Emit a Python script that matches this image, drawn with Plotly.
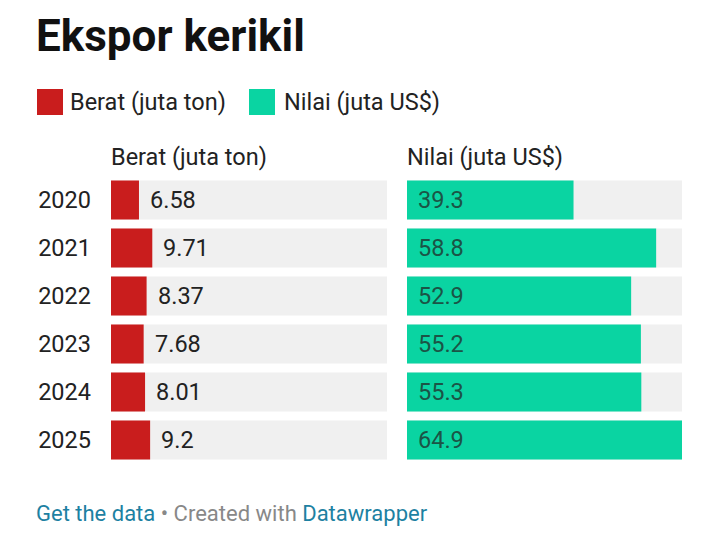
import plotly.graph_objects as go

years = ["2020", "2021", "2022", "2023", "2024", "2025"]
berat = [6.58, 9.71, 8.37, 7.68, 8.01, 9.2]
nilai = [39.3, 58.8, 52.9, 55.2, 55.3, 64.9]
berat_labels = ["6.58", "9.71", "8.37", "7.68", "8.01", "9.2"]
nilai_labels = ["39.3", "58.8", "52.9", "55.2", "55.3", "64.9"]
col_titles = ["Berat (juta ton)", "Nilai (juta US$)"]

W, H = 720, 551
RED = "#c91d1d"
GREEN = "#0ad4a2"
BG = "#f0f0f0"
FONT = "Roboto"
FS = 23.5

vmax = max(max(berat), max(nilai))

def px(x):
    return x / W

def py(y):
    return 1 - y / H

fig = go.Figure()

for i, (vals, col, ax, yax) in enumerate([(berat, RED, "x", "y"), (nilai, GREEN, "x2", "y2")]):
    fig.add_trace(go.Bar(
        y=years, x=[vmax] * len(years), orientation="h",
        marker=dict(color=BG, line=dict(width=0)),
        xaxis=ax, yaxis=yax, hoverinfo="skip", showlegend=False,
    ))
    fig.add_trace(go.Bar(
        y=years, x=vals, orientation="h",
        marker=dict(color=col, line=dict(width=0)),
        xaxis=ax, yaxis=yax, name=col_titles[i], showlegend=False,
    ))

annotations = []
for i, (v, t) in enumerate(zip(berat, berat_labels)):
    annotations.append(dict(x=v, y=i, xref="x", yref="y", text=t, showarrow=False,
                            xanchor="left", yanchor="middle", xshift=9,
                            font=dict(family=FONT, size=FS, color="#222222")))
for i, (v, t) in enumerate(zip(nilai, nilai_labels)):
    annotations.append(dict(x=0, y=i, xref="x2", yref="y2", text=t, showarrow=False,
                            xanchor="left", yanchor="middle", xshift=9,
                            font=dict(family=FONT, size=FS, color="#1b5446")))

# title
annotations.append(dict(x=px(34), y=py(36), xref="paper", yref="paper", text="<b>Ekspor kerikil</b>",
                        showarrow=False, xanchor="left", yanchor="middle",
                        font=dict(family=FONT, size=44, color="#111111")))
# legend
shapes = []
leg = [(37, 68, RED, col_titles[0]), (249, 282, GREEN, col_titles[1])]
for x0, tx, c, t in leg:
    shapes.append(dict(type="rect", xref="paper", yref="paper", x0=px(x0), x1=px(x0 + 26),
                       y0=py(115), y1=py(89), fillcolor=c, line=dict(width=0)))
    annotations.append(dict(x=px(tx), y=py(102), xref="paper", yref="paper", text=t, showarrow=False,
                            xanchor="left", yanchor="middle",
                            font=dict(family=FONT, size=FS, color="#222222")))
# column headers
for x0, t in [(109, col_titles[0]), (405, col_titles[1])]:
    annotations.append(dict(x=px(x0), y=py(157), xref="paper", yref="paper", text=t, showarrow=False,
                            xanchor="left", yanchor="middle",
                            font=dict(family=FONT, size=FS, color="#222222")))
# footer
annotations.append(dict(x=px(34), y=py(513), xref="paper", yref="paper",
                        text="<span style='color:#1d81a2'>Get the data</span>"
                             "<span style='color:#888888'> • Created with </span>"
                             "<span style='color:#1d81a2'>Datawrapper</span>",
                        showarrow=False, xanchor="left", yanchor="middle",
                        font=dict(family=FONT, size=22, color="#888888")))

ydom = [py(464), py(176)]
yrange = [len(years) - 0.5, -0.5]
fig.update_layout(
    width=W, height=H, margin=dict(l=0, r=0, t=0, b=0, autoexpand=False),
    paper_bgcolor="white", plot_bgcolor="white",
    barmode="overlay", bargap=9 / 48,
    showlegend=False,
    xaxis=dict(domain=[px(111), px(387)], range=[0, vmax], visible=False, fixedrange=True),
    xaxis2=dict(domain=[px(407), px(682)], range=[0, vmax], visible=False, fixedrange=True),
    yaxis=dict(domain=ydom, type="category", categoryorder="array", categoryarray=years,
               range=yrange, anchor="x", showgrid=False,
               zeroline=False, showline=False, ticks="", ticklabelstandoff=19,
               tickfont=dict(family=FONT, size=FS, color="#222222")),
    yaxis2=dict(domain=ydom, type="category", categoryorder="array", categoryarray=years,
                range=yrange, anchor="x2", visible=False),
    annotations=annotations, shapes=shapes,
)

fig.write_html("out.html")
